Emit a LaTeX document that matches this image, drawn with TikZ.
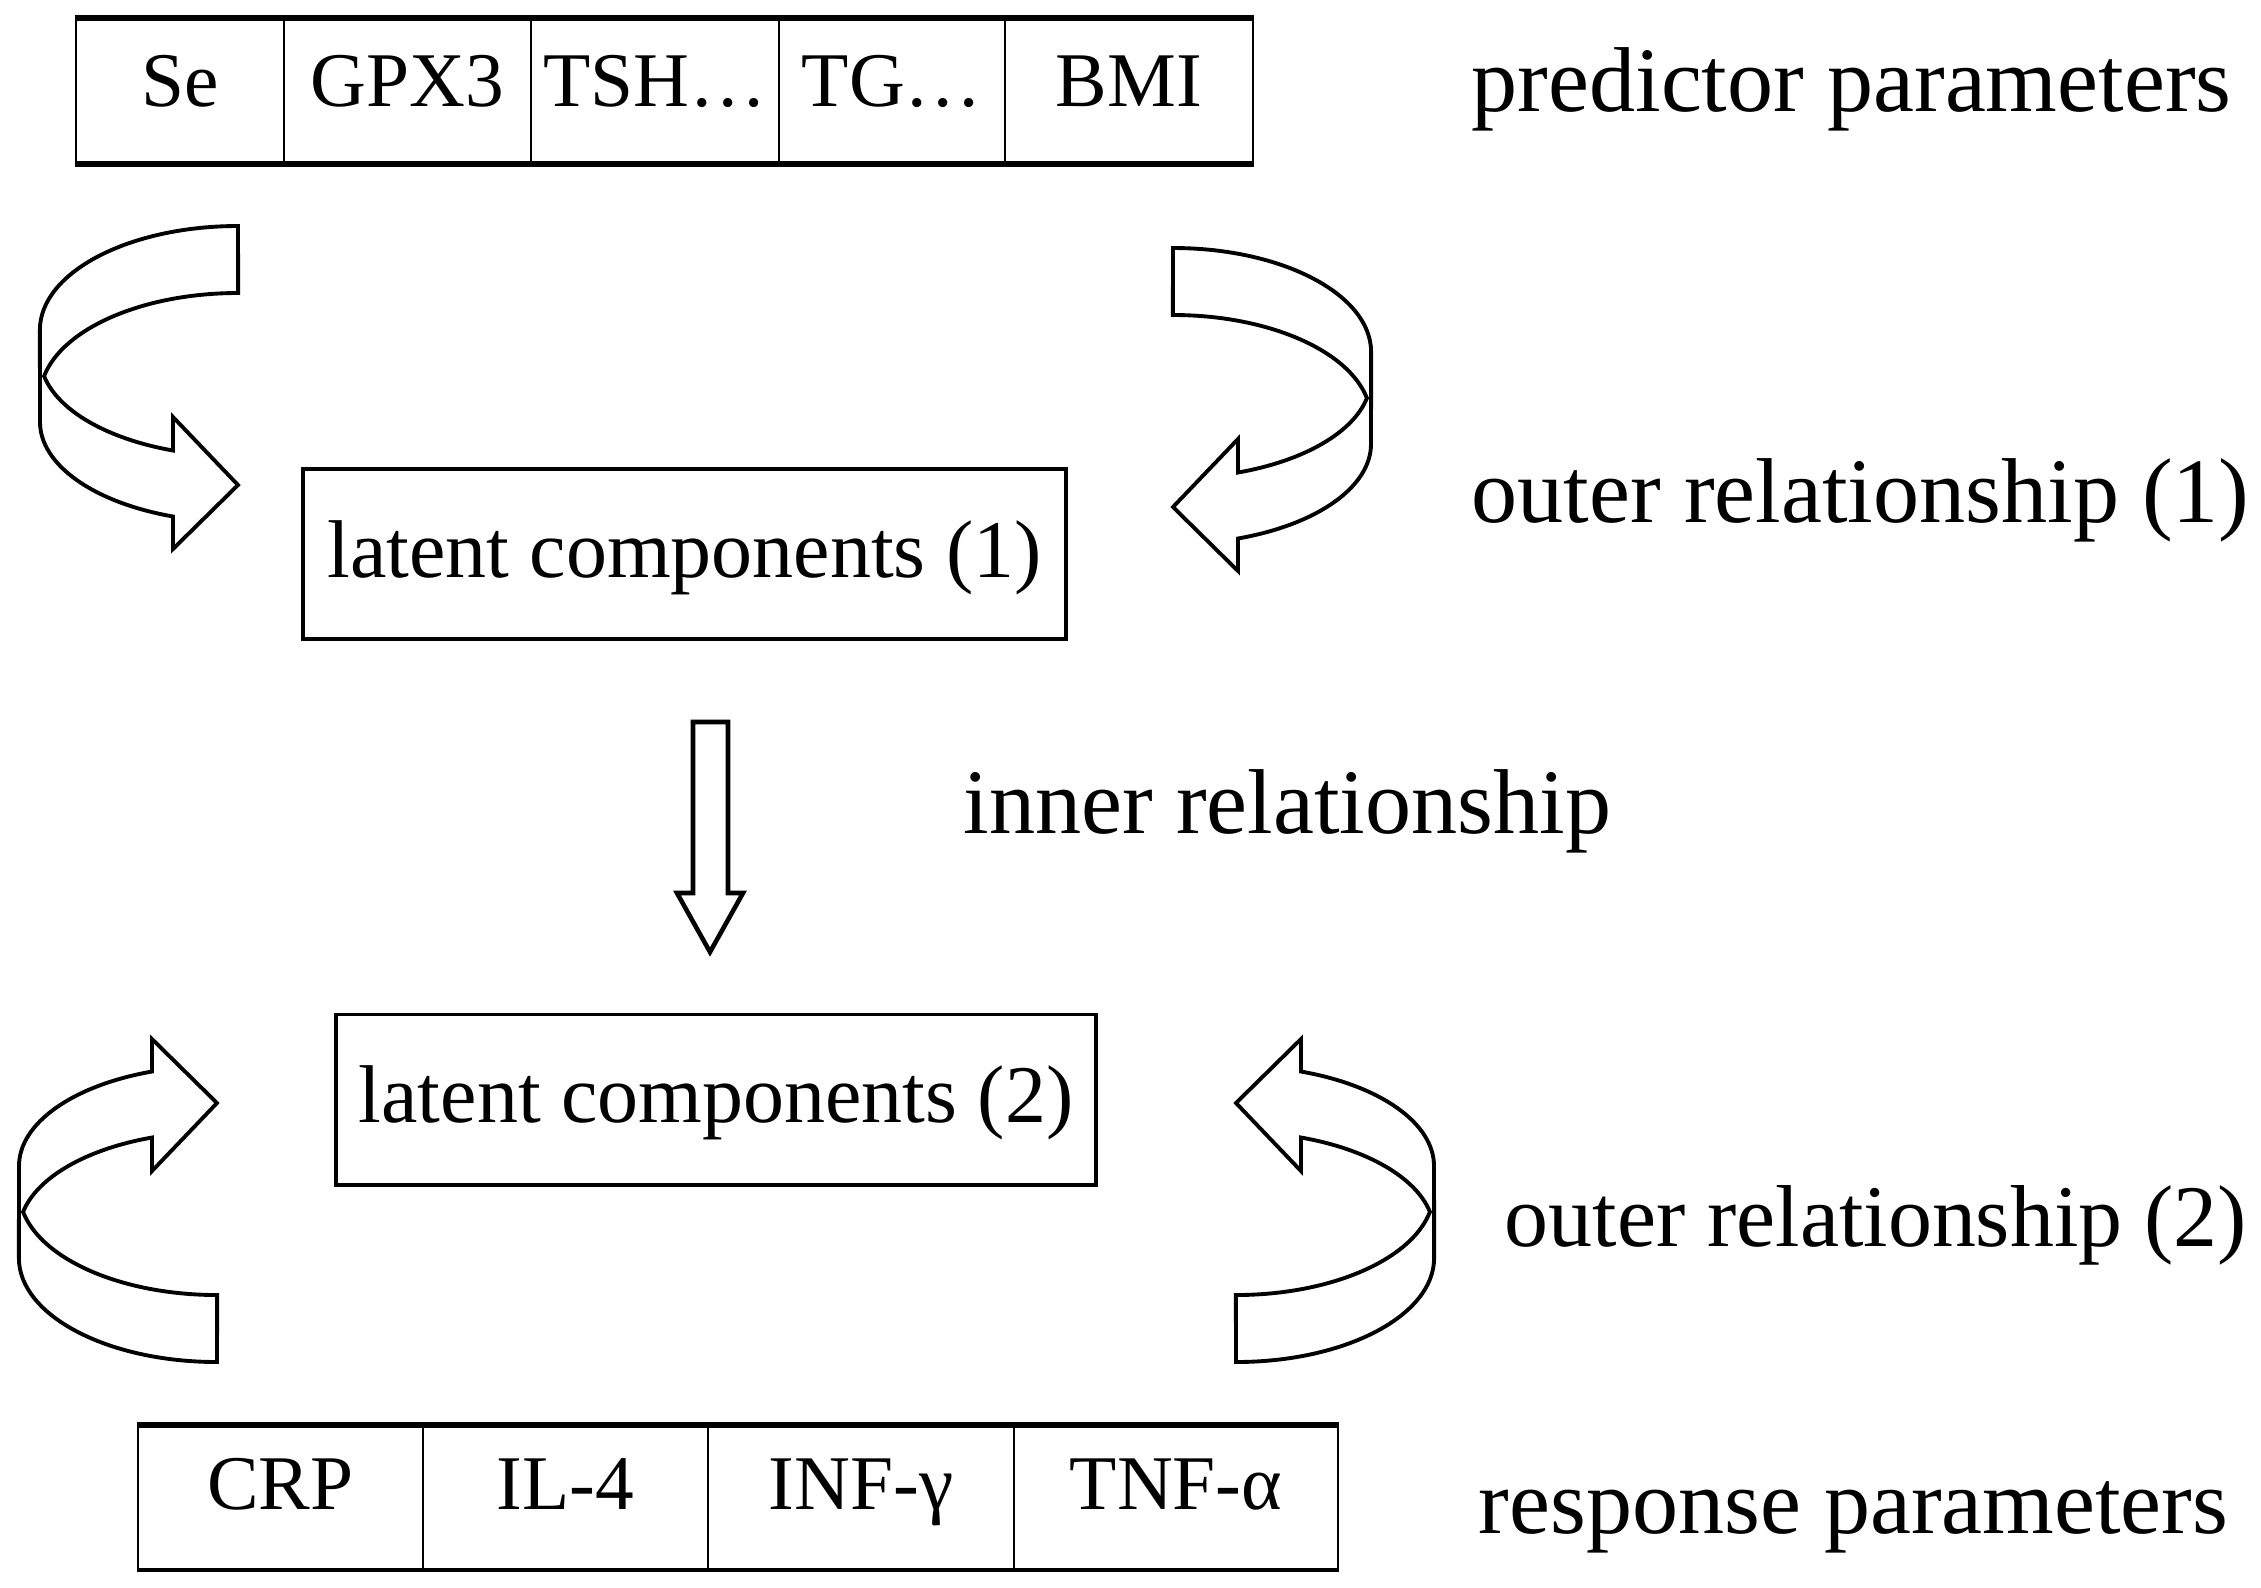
\documentclass[tikz,border=0pt]{standalone}
\usepackage{fontspec}
\setmainfont{Liberation Serif}
\usetikzlibrary{positioning}

% twisted ribbon arrow, origin at the outer corner of its tail
\newcommand{\bentarrow}{%
  \draw[ribbon] (0,0) arc[start angle=90, end angle=180, x radius=1.98cm, y radius=1.04cm]
    -- (-198,196) arc[start angle=180, end angle=250.8, x radius=1.98cm, y radius=1cm]
    -- (-65,323) -- (0,259) -- (-65,191) -- (-65,224.5)
    arc[start angle=250.8, end angle=191.6, x radius=1.98cm, y radius=1cm]
    arc[start angle=168.4, end angle=90, x radius=1.98cm, y radius=1.04cm]
    -- cycle;}

\begin{document}
\begin{tikzpicture}[
  x=0.01cm, y=-0.01cm,
  cell/.style={draw, line width=0.6pt, minimum height=1.44cm, inner sep=0pt, text height=0.30cm, text depth=0pt, font=\fontsize{22}{26}\selectfont},
  latent/.style={draw, line width=1.1pt, minimum height=1.7cm, inner sep=0pt, text height=0.46cm, text depth=0pt, font=\fontsize{23.3}{28}\selectfont},
  lbl/.style={anchor=base west, inner sep=0pt, font=\fontsize{26.2}{31}\selectfont},
  ribbon/.style={draw, fill=white, line width=1.1pt},
  rim/.style={line width=1.5pt},
]
\useasboundingbox (0,0) rectangle (2261,1587);

% predictor table
\node[cell, minimum width=2.08cm] (se) at (180,91) {Se};
\node[cell, minimum width=2.47cm] (gpx) at (407.5,91) {GPX3};
\node[cell, minimum width=2.48cm] (tsh) at (655,91) {TSH…};
\node[cell, minimum width=2.26cm] (tg) at (892,91) {TG…};
\node[cell, minimum width=2.48cm] (bmi) at (1129,91) {BMI};
\draw[rim] (se.north west) -- (bmi.north east);
\draw[rim] (se.south west) -- (bmi.south east);

% response table
\node[cell, minimum width=2.85cm, minimum height=1.43cm, text height=0.24cm] (crp) at (280.5,1497.5) {CRP};
\node[cell, minimum width=2.85cm, minimum height=1.43cm, text height=0.24cm] (il) at (565.5,1497.5) {IL-4};
\node[cell, minimum width=3.06cm, minimum height=1.43cm, text height=0.24cm] (inf) at (861,1497.5) {INF-γ};
\node[cell, minimum width=3.24cm, minimum height=1.43cm, text height=0.24cm] (tnf) at (1176,1497.5) {TNF-α};
\draw[rim] (crp.north west) -- (tnf.north east);
\draw[line width=1pt] (crp.south west) -- (tnf.south east);

% latent boxes
\node[latent, minimum width=7.63cm] (lat1) at (684.5,554) {latent components (1)};
\node[latent, minimum width=7.6cm] (lat2) at (716,1099.5) {latent components (2)};

% labels
\node[lbl] (pred) at (1471,111) {predictor parameters};
\node[lbl] (outer1) at (1471,522) {outer relationship (1)};
\node[lbl] (inner) at (963,833) {inner relationship};
\node[lbl, font=\fontsize{25}{30}\selectfont] (outer2) at (1504,1246) {outer relationship (2)};
\node[lbl] (resp) at (1478,1533) {response parameters};

% block arrows
\draw[ribbon, line width=1.3pt] (693,722) -- (728,722) -- (728,893) -- (743,893) -- (710,952) -- (677,893) -- (693,893) -- cycle;
\begin{scope}[shift={(238,226)}] \bentarrow \end{scope}
\begin{scope}[shift={(1173,248)}, xscale=-1] \bentarrow \end{scope}
\begin{scope}[shift={(217,1362)}, yscale=-1] \bentarrow \end{scope}
\begin{scope}[shift={(1236,1362)}, xscale=-1, yscale=-1] \bentarrow \end{scope}
\end{tikzpicture}
\end{document}
